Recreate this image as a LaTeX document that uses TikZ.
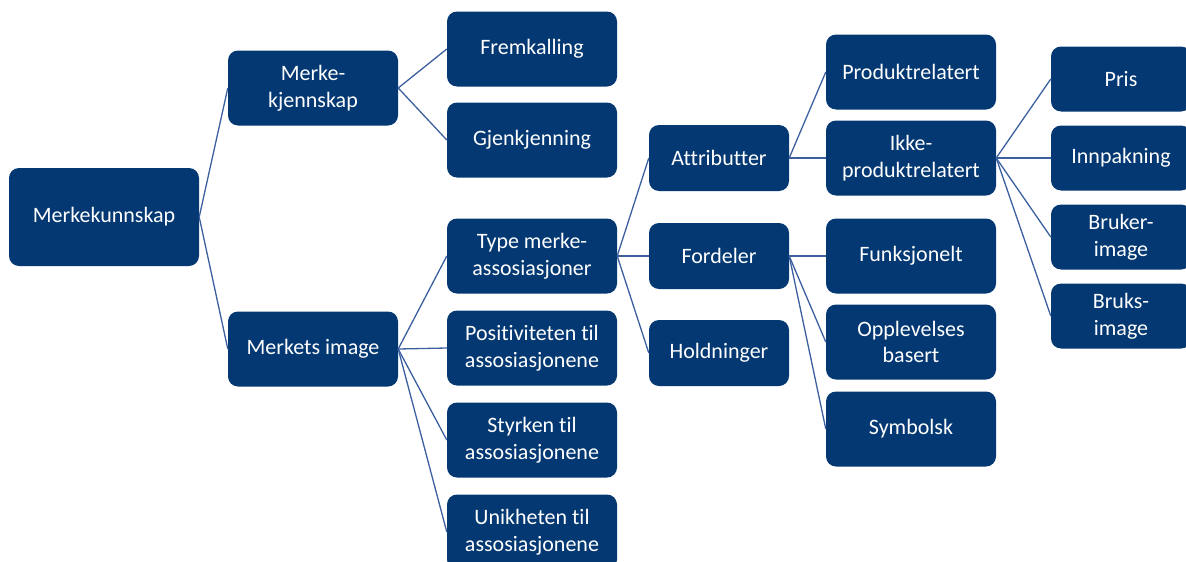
\documentclass[tikz,border=0pt]{standalone}
\usepackage{fontspec}
\setmainfont[Ligatures=NoCommon]{Carlito}
\definecolor{boxblue}{RGB}{3,56,114}
\definecolor{lineblue}{RGB}{60,95,160}
\tikzset{
  box/.style={rectangle, rounded corners=10pt, fill=boxblue, text=white, align=center,
    inner sep=0pt, font=\fontsize{22}{26.5}\selectfont},
  b0/.style={box, minimum width=190pt, minimum height=98pt},
  b1/.style={box, minimum width=170pt, minimum height=75pt},
  b3/.style={box, minimum width=140pt, minimum height=66pt},
  b5/.style={box, minimum width=140pt, minimum height=65pt},
  conn/.style={draw=lineblue, line width=1.3pt},
}
\begin{document}
\begin{tikzpicture}[x=1pt,y=-1pt]
\useasboundingbox (0,0) rectangle (1186,562);
\clip (0,0) rectangle (1186,562);
\node[b0] (mk) at (104,217) {Merkekunnskap};
\node[b1] (kj) at (313,88) {Merke-\\kjennskap};
\node[b1] (mi) at (313,349) {Merkets image};
\node[b1] (fr) at (532,49) {Fremkalling};
\node[b1] (gj) at (532,140) {Gjenkjenning};
\node[b1] (ty) at (532,256) {Type merke-\\assosiasjoner};
\node[b1] (po) at (532,348) {Positiviteten til\\assosiasjonene};
\node[b1] (st) at (532,440) {Styrken til\\assosiasjonene};
\node[b1] (un) at (532,532) {Unikheten til\\assosiasjonene};
\node[b3] (at) at (719,158) {Attributter};
\node[b3] (fo) at (719,256) {Fordeler};
\node[b3] (ho) at (719,353) {Holdninger};
\node[b1] (pr) at (911,72) {Produktrelatert};
\node[b1] (ik) at (911,158) {Ikke-\\produktrelatert};
\node[b1] (fu) at (911,256) {Funksjonelt};
\node[b1] (op) at (911,342) {Opplevelses\\basert};
\node[b1] (sy) at (911,429) {Symbolsk};
\node[b5] (pi) at (1121,79) {Pris};
\node[b5] (in) at (1121,158) {Innpakning};
\node[b5] (bu) at (1121,237) {Bruker-\\image};
\node[b5] (bs) at (1121,316) {Bruks-\\image};
\foreach \a/\b in {mk/kj,mk/mi,kj/fr,kj/gj,mi/ty,mi/po,mi/st,mi/un,ty/at,ty/fo,ty/ho,
  at/pr,at/ik,fo/fu,fo/op,fo/sy,ik/pi,ik/in,ik/bu,ik/bs}
  \draw[conn] (\a.east) -- (\b.west);
\end{tikzpicture}
\end{document}
